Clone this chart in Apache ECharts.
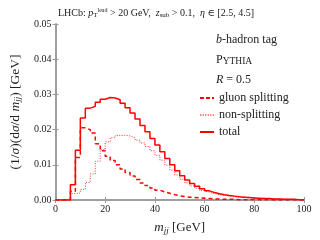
<!DOCTYPE html>
<html><head><meta charset="utf-8">
<script src="https://cdn.jsdelivr.net/npm/echarts@6/dist/echarts.min.js"></script>
<style>html,body{margin:0;padding:0;background:#fff}#c{width:320px;height:240px}</style>
</head><body><div id="c"></div>
<script>
// 2 GeV bins from 0 to 100 GeV
const binWidth = 2;
const xTicks = [0, 20, 40, 60, 80, 100];
const yTicks = [0, 0.01, 0.02, 0.03, 0.04, 0.05];
const total = [0, 0, 0, 0.0043, 0.0141, 0.0233, 0.0261, 0.0266, 0.0278, 0.0286,
  0.0291, 0.0290, 0.0285, 0.0275, 0.0262, 0.0247, 0.0230, 0.0212, 0.0194, 0.0175,
  0.0156, 0.0137, 0.0118, 0.0100, 0.0083, 0.0069, 0.0057, 0.0047, 0.0039, 0.0032,
  0.0026, 0.0021, 0.0018, 0.0015, 0.0013, 0.0011, 0.0009, 0.0008, 0.0007, 0.0006,
  0.0005, 0.0004, 0.0004, 0.0003, 0.0003, 0.0002, 0.0002, 0.0002, 0.0001, 0.0001];
const gluon = [0, 0, 0, 0.0025, 0.0121, 0.0205, 0.0200, 0.0190, 0.0160, 0.0140,
  0.0124, 0.0112, 0.0100, 0.0088, 0.0078, 0.0068, 0.0058, 0.0048, 0.0041, 0.0034,
  0.0028, 0.0023, 0.0019, 0.0015, 0.0012, 0.0010, 0.0008, 0.0007, 0.0006, 0.0005,
  0.0004, 0.0003, 0.0003, 0.0002, 0.0002, 0.0002, 0.0001, 0.0001, 0.0001, 0.0001,
  0.0001, 0.0001, 0.0001, 0, 0, 0, 0, 0, 0, 0];
const nonSplit = [0, 0, 0, 0.0018, 0.0020, 0.0030, 0.0050, 0.0074, 0.0110, 0.0143,
  0.0165, 0.0177, 0.0183, 0.0184, 0.0182, 0.0177, 0.0170, 0.0162, 0.0152, 0.0140,
  0.0127, 0.0113, 0.0099, 0.0085, 0.0071, 0.0059, 0.0049, 0.0040, 0.0033, 0.0027,
  0.0022, 0.0018, 0.0015, 0.0013, 0.0011, 0.0009, 0.0008, 0.0007, 0.0006, 0.0005,
  0.0004, 0.0003, 0.0003, 0.0003, 0.0003, 0.0002, 0.0002, 0.0002, 0.0001, 0.0001];

function steps(vals) {
  const d = vals.map((v, i) => [i * binWidth, v]);
  d.push([vals.length * binWidth, vals[vals.length - 1]]);
  return d;
}
const SERIF = '"Liberation Serif", "DejaVu Serif", serif';
const AX = '#999';
const chart = echarts.init(document.getElementById('c'), null, {renderer: 'canvas'});
const axCommon = {
  axisLine: {lineStyle: {color: AX, width: 1.5}},
  axisTick: {inside: true, length: 3, lineStyle: {color: AX, width: 1}},
  splitLine: {show: false}
};
chart.setOption({
  animation: false,
  textStyle: {fontFamily: SERIF},
  title: {
    text: '{n|LHCb: }{i|p}{s|T}{u|lead}{n| > 20 GeV,  }{i|z}{s|sub}{n| > 0.1,  }{i|η}{n| ∈ [2.5, 4.5]}',
    left: 151, top: 2, textAlign: 'center',
    textStyle: {
      fontFamily: SERIF, fontWeight: 'normal', fontSize: 10, color: '#222',
      rich: {
        n: {fontFamily: SERIF, fontSize: 10, color: '#222'},
        i: {fontFamily: SERIF, fontSize: 10, fontStyle: 'italic', color: '#222'},
        s: {fontFamily: SERIF, fontSize: 7, color: '#222', verticalAlign: 'bottom', padding: [5, 0, 0, 0]},
        u: {fontFamily: SERIF, fontSize: 6, color: '#222', verticalAlign: 'top', padding: [0, 0, 5, 0]}
      }
    }
  },
  grid: {left: 48, right: 16, top: 24, bottom: 37},
  legend: {
    orient: 'vertical', left: 195, top: 87, itemWidth: 14, itemHeight: 2, itemGap: 5,
    textStyle: {fontFamily: SERIF, fontSize: 12, color: '#222'},
    data: [
      {name: 'gluon splitting', icon: 'path://M0,0h4v2h-4z M6,0h4v2h-4z M12,0h2v2h-2z', itemStyle: {color: '#ff0000'}},
      {name: 'non-splitting', icon: 'path://M0,0h1v2h-1z M2.5,0h1v2h-1z M5,0h1v2h-1z M7.5,0h1v2h-1z M10,0h1v2h-1z M12.5,0h1v2h-1z', itemStyle: {color: '#ff5555'}},
      {name: 'total', icon: 'path://M0,0h14v2h-14z', itemStyle: {color: '#ff0000'}}
    ]
  },
  xAxis: [Object.assign({
    type: 'value', min: 0, max: 100, interval: 20,
    name: '{i|m}{s|jj} [GeV]', nameLocation: 'middle', nameGap: 20,
    nameTextStyle: {fontFamily: SERIF, fontSize: 13, color: '#222',
      rich: {i: {fontFamily: SERIF, fontSize: 13, fontStyle: 'italic', color: '#222'},
             s: {fontFamily: SERIF, fontSize: 9, fontStyle: 'italic', color: '#222', verticalAlign: 'bottom', padding: [6, 0, 0, 0]}}},
    axisLabel: {fontFamily: SERIF, fontSize: 10, color: '#222', margin: 4}
  }, axCommon), Object.assign({
    type: 'value', min: 0, max: 100, interval: 20, position: 'top',
    axisLabel: {show: false}
  }, axCommon)],
  yAxis: [Object.assign({
    type: 'value', min: 0, max: 0.05, interval: 0.01,
    name: '(1/{i|σ})(d{i|σ}/d {i|m}{s|jj}) [GeV]', nameLocation: 'middle', nameGap: 33, nameRotate: 90,
    nameTextStyle: {fontFamily: SERIF, fontSize: 13.5, color: '#222',
      rich: {i: {fontFamily: SERIF, fontSize: 13.5, fontStyle: 'italic', color: '#222'},
             s: {fontFamily: SERIF, fontSize: 9, fontStyle: 'italic', color: '#222', verticalAlign: 'bottom', padding: [6, 0, 0, 0]}}},
    axisLabel: {fontFamily: SERIF, fontSize: 10, color: '#222', margin: 4, formatter: v => v.toFixed(2)}
  }, axCommon), Object.assign({
    type: 'value', min: 0, max: 0.05, interval: 0.01, position: 'right',
    axisLabel: {show: false}
  }, axCommon)],
  graphic: [
    {type: 'text', left: 216, top: 34, style: {
      text: '{i|b}{n|-hadron tag}', rich: {
        i: {fontFamily: SERIF, fontSize: 12, fontStyle: 'italic', fill: '#222'},
        n: {fontFamily: SERIF, fontSize: 12, fill: '#222'}}}},
    {type: 'text', left: 216, top: 54, style: {
      text: '{b|P}{s|YTHIA}', rich: {
        b: {fontFamily: SERIF, fontSize: 12, fill: '#222'},
        s: {fontFamily: SERIF, fontSize: 9.5, fill: '#222', verticalAlign: 'bottom', padding: [2, 0, 0, 0]}}}},
    {type: 'text', left: 216, top: 74, style: {
      text: '{i|R}{n| = 0.5}', rich: {
        i: {fontFamily: SERIF, fontSize: 12, fontStyle: 'italic', fill: '#222'},
        n: {fontFamily: SERIF, fontSize: 12, fill: '#222'}}}}
  ],
  series: [
    {name: 'gluon splitting', type: 'line', step: 'end', symbol: 'none', data: steps(gluon),
     lineStyle: {color: '#ff0000', width: 1.5, type: [4, 3]}, itemStyle: {color: '#ff0000'}},
    {name: 'non-splitting', type: 'line', step: 'end', symbol: 'none', data: steps(nonSplit),
     lineStyle: {color: '#ff3333', width: 1, type: [1, 1.5]}, itemStyle: {color: '#ff3333'}},
    {name: 'total', type: 'line', step: 'end', symbol: 'none', data: steps(total),
     lineStyle: {color: '#ff0000', width: 1.5}, itemStyle: {color: '#ff0000'}}
  ]
});
</script></body></html>
